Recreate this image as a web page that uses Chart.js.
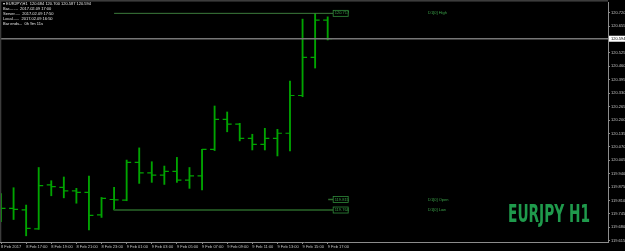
<!DOCTYPE html>
<html>
<head>
<meta charset="utf-8">
<script src="https://cdn.jsdelivr.net/npm/chart.js@4.4.1/dist/chart.umd.min.js"></script>
<style>html,body{margin:0;padding:0;background:#000;overflow:hidden}</style>
</head>
<body>
<canvas id="ohlcChart" width="625" height="251"></canvas>
<script>
// EURJPY H1 bars, 8 Feb 15:00 .. 9 Feb 17:00
var barTimes = ["8 Feb 15:00","8 Feb 16:00","8 Feb 17:00","8 Feb 18:00","8 Feb 19:00","8 Feb 20:00","8 Feb 21:00",
  "8 Feb 22:00","8 Feb 23:00","9 Feb 00:00","9 Feb 01:00","9 Feb 02:00","9 Feb 03:00","9 Feb 04:00","9 Feb 05:00",
  "9 Feb 06:00","9 Feb 07:00","9 Feb 08:00","9 Feb 09:00","9 Feb 10:00","9 Feb 11:00","9 Feb 12:00","9 Feb 13:00",
  "9 Feb 14:00","9 Feb 15:00","9 Feb 16:00","9 Feb 17:00"];
var opens  = [119.788,119.772,119.765,119.673,119.886,119.874,119.857,119.849,119.740,119.815,119.812,119.995,119.944,119.933,
  119.951,119.909,119.929,120.058,120.203,120.180,120.111,120.082,120.111,120.136,120.319,120.504,120.684];
var highs  = [119.844,119.872,119.788,119.970,119.906,119.924,119.869,119.929,119.825,119.874,120.006,120.065,119.998,119.977,
  120.019,119.970,120.058,120.268,120.239,120.184,120.131,120.160,120.155,120.389,120.689,120.717,120.700];
var lows   = [119.707,119.718,119.639,119.670,119.833,119.823,119.797,119.667,119.728,119.764,119.809,119.893,119.898,119.888,
  119.898,119.869,119.861,120.052,120.143,120.099,120.055,120.055,120.026,120.050,120.313,120.452,120.588];
var closes = [119.772,119.767,119.675,119.882,119.877,119.857,119.849,119.738,119.820,119.813,119.995,119.944,119.933,119.951,
  119.909,119.929,120.058,120.203,120.180,120.111,120.082,120.111,120.136,120.319,120.504,120.684,120.594];

var xTickBars = [0,2,4,6,8,10,12,14,16,18,20,22,24,26];
var xTickLabels = ["8 Feb 2017","8 Feb 17:00","8 Feb 19:00","8 Feb 21:00","8 Feb 23:00","9 Feb 01:00","9 Feb 03:00",
  "9 Feb 05:00","9 Feb 07:00","9 Feb 09:00","9 Feb 11:00","9 Feb 13:00","9 Feb 15:00","9 Feb 17:00"];
var priceTicks = [120.720,120.655,120.525,120.460,120.395,120.330,120.265,120.200,120.135,120.070,120.005,
  119.940,119.875,119.810,119.745,119.680,119.615];

var currentPrice = 120.594;
var d1Names = ["D1[0] High","D1[0] Open","D1[0] Low"];
var d1Values = [120.717, 119.815, 119.764];
var d1StartBar = 9;

var infoLines = ["EURJPY,H1  120.684 120.700 120.587 120.594",
  "Bar........  2017.02.09 17:00",
  "Server.....  2017.02.09 17:50",
  "Local......  2017.02.09 16:50",
  "Bar ends...  0h 9m 11s"];

var barColor = "#00a400";
var smallFont = "4px 'Liberation Sans', Arial, sans-serif";

var ohlcDecor = {
  id: "ohlcDecor",
  beforeDraw: function(chart) {
    var ctx = chart.ctx;
    ctx.save();
    ctx.fillStyle = "#000";
    ctx.fillRect(0, 0, chart.width, chart.height);
    ctx.restore();
  },
  afterDatasetsDraw: function(chart) {
    var ctx = chart.ctx, x = chart.scales.x, y = chart.scales.y, a = chart.chartArea;
    ctx.save();
    ctx.beginPath();
    ctx.rect(a.left, a.top, a.right - a.left, a.bottom - a.top);
    ctx.clip();

    // open / close ticks
    ctx.strokeStyle = barColor;
    ctx.lineWidth = 1.2;
    ctx.beginPath();
    for (var i = 0; i < opens.length; i++) {
      var px = x.getPixelForValue(i);
      var yo = y.getPixelForValue(opens[i]), yc = y.getPixelForValue(closes[i]);
      ctx.moveTo(px - 4.5, yo); ctx.lineTo(px, yo);
      ctx.moveTo(px, yc); ctx.lineTo(px + 4.5, yc);
    }
    ctx.stroke();

    // current price line
    var yCur = y.getPixelForValue(currentPrice);
    ctx.strokeStyle = "#767676";
    ctx.lineWidth = 1.5;
    ctx.beginPath();
    ctx.moveTo(a.left, yCur); ctx.lineTo(a.right, yCur);
    ctx.stroke();

    // D1 levels
    var xs = x.getPixelForValue(d1StartBar);
    var xe = x.getPixelForValue(opens.length - 1) + 5.5;
    var lineCols = ["#3b7a3b", "#2d6a2d", "#1f4d1f"];
    var lineW = [1, 1.5, 2];
    ctx.font = smallFont;
    ctx.textBaseline = "middle";
    d1Values.forEach(function(v, k) {
      var yy = y.getPixelForValue(v);
      ctx.strokeStyle = lineCols[k];
      ctx.lineWidth = lineW[k];
      ctx.beginPath();
      ctx.moveTo(k === 1 ? xe - 5 : xs, yy); ctx.lineTo(xe, yy);
      ctx.stroke();
      ctx.fillStyle = "#000";
      ctx.fillRect(xe, yy - 3, 15, 6);
      ctx.strokeStyle = "#2f8a3a";
      ctx.lineWidth = 0.8;
      ctx.strokeRect(xe, yy - 3, 15, 6);
      ctx.fillStyle = "#3aa048";
      ctx.textAlign = "left";
      ctx.fillText(v.toFixed(3), xe + 1.5, yy);
      ctx.fillText(d1Names[k], 428, yy);
    });
    ctx.restore();
  },
  afterDraw: function(chart) {
    var ctx = chart.ctx, y = chart.scales.y, a = chart.chartArea;
    ctx.save();
    // window frame
    ctx.fillStyle = "#3c3c3c";
    ctx.fillRect(0, 0, a.right, 1.6);
    ctx.fillRect(0, 0, 1.3, a.bottom);

    // current price box
    var yCur = y.getPixelForValue(currentPrice);
    ctx.fillStyle = "#ffffff";
    ctx.fillRect(a.right + 1, yCur - 3, 16, 6);
    ctx.fillStyle = "#000";
    ctx.font = smallFont;
    ctx.textBaseline = "middle";
    ctx.textAlign = "left";
    ctx.fillText(currentPrice.toFixed(3), a.right + 3, yCur);

    // info block
    ctx.fillStyle = "#e6e6e6";
    infoLines.forEach(function(t, k) {
      ctx.fillText(k === 0 ? "\u25BE " + t : t, 3, 4.3 + k * 5);
    });

    // symbol watermark
    ctx.font = "bold 24px 'DejaVu Sans Condensed', 'Liberation Sans Narrow', sans-serif";
    ctx.textBaseline = "alphabetic";
    var label = "EURJPY H1";
    var w = ctx.measureText(label).width;
    ctx.translate(508, 222);
    ctx.scale(82 / w, 1);
    ctx.fillStyle = "#1f9a4c";
    ctx.fillText(label, 0, 0);
    ctx.restore();
  }
};

var chart = new Chart(document.getElementById("ohlcChart"), {
  type: "bar",
  data: {
    datasets: [{
      label: "EURJPY H1",
      data: lows.map(function(l, i) { return { x: i, y: [l, highs[i]] }; }),
      backgroundColor: barColor,
      borderWidth: 0,
      barThickness: 1.2
    }]
  },
  options: {
    responsive: false,
    animation: false,
    devicePixelRatio: 1,
    layout: { padding: { top: 2, left: 0, right: 0, bottom: 0 } },
    plugins: { legend: { display: false }, tooltip: { enabled: false } },
    scales: {
      x: {
        type: "linear",
        position: "bottom",
        offset: false,
        min: -0.08,
        max: 48.31,
        afterBuildTicks: function(s) { s.ticks = xTickBars.map(function(v) { return { value: v }; }); },
        afterFit: function(s) { s.height = 9; s.paddingLeft = 0; s.paddingRight = 0; },
        grid: { display: true, offset: false, drawOnChartArea: false, tickLength: 2, color: "#8c8c8c" },
        border: { display: true, color: "#8c8c8c", width: 1 },
        ticks: {
          autoSkip: false, maxRotation: 0, align: "start", padding: 0,
          color: "#c4c4c4", font: { size: 4, family: "'Liberation Sans', Arial, sans-serif" },
          callback: function(v, i) { return xTickLabels[i]; }
        }
      },
      y: {
        type: "linear",
        position: "right",
        min: 119.609,
        max: 120.772,
        afterBuildTicks: function(s) { s.ticks = priceTicks.map(function(v) { return { value: v }; }); },
        afterFit: function(s) { s.width = 17; s.paddingTop = 0; s.paddingBottom = 0; },
        grid: { display: true, drawOnChartArea: false, tickLength: 2, color: "#8c8c8c" },
        border: { display: true, color: "#8c8c8c", width: 1 },
        ticks: {
          padding: 1,
          color: "#c4c4c4", font: { size: 4, family: "'Liberation Sans', Arial, sans-serif" },
          callback: function(v) { return v.toFixed(3); }
        }
      }
    }
  },
  plugins: [ohlcDecor]
});
</script>
</body>
</html>
